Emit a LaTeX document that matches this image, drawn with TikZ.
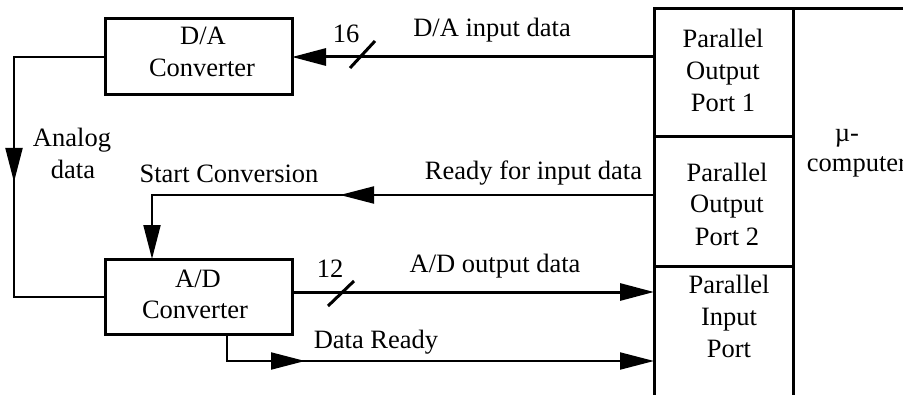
\documentclass[tikz,border=0pt]{standalone}
\usepackage{fontspec}
\setmainfont{Liberation Serif}
\usetikzlibrary{arrows.meta,decorations.markings}
\begin{document}
\begin{tikzpicture}[x=0.5pt,y=-0.5pt,
  every node/.style={font=\fontsize{13.25pt}{16pt}\selectfont, inner sep=0pt, outer sep=0pt},
  box/.style={draw, line width=1.5pt},
  bus/.style={line width=1.5pt},
  sig/.style={line width=1pt},
  tip/.style={-{Triangle[length=17pt,width=8.5pt]}},
  lbl/.style={anchor=base},
  midarrow/.style={postaction={decorate}, decoration={markings, mark=at position #1 with {\arrow{Triangle[length=17pt,width=8.5pt]}}}},
]
\useasboundingbox (0,0) rectangle (903,395);
% boxes
\node[box, minimum width=93.5pt, minimum height=38pt] (DA) at (198.5,57) {};
\node[box, minimum width=93.5pt, minimum height=37.5pt] (AD) at (198.5,296.5) {};
\node[box, minimum width=69.5pt, minimum height=64pt] (P1) at (723.5,73) {};
\node[box, minimum width=69.5pt, minimum height=64.5pt] (P2) at (723.5,201.5) {};
\node[box, minimum width=69.5pt, minimum height=67pt] (P3) at (723.5,333) {};
\node[box, minimum width=60pt, minimum height=196pt] (MC) at (853,205) {};
% box texts
\node[lbl] (da1) at (203,45) {D/A};
\node[lbl] (da2) at (202,77) {Converter};
\node[lbl] (ad1) at (198,287) {A/D};
\node[lbl] (ad2) at (195,318) {Converter};
\node[lbl] (p1a) at (723,48) {Parallel};
\node[lbl] (p1b) at (723,80) {Output};
\node[lbl] (p1c) at (723,112) {Port 1};
\node[lbl] (p2a) at (727,182) {Parallel};
\node[lbl] (p2b) at (727,213) {Output};
\node[lbl] (p2c) at (727,245) {Port 2};
\node[lbl] (p3a) at (729,293) {Parallel};
\node[lbl] (p3b) at (729,325) {Input};
\node[lbl] (p3c) at (729,357) {Port};
\node[lbl] (mc1) at (847,142) {µ-};
\node[lbl] (mc2) at (857,172) {computer};
% signal labels
\node[lbl] (l16) at (346,43) {16};
\node[lbl] (lda) at (492,37) {D/A input data};
\node[lbl] (lan1) at (72,147) {Analog};
\node[lbl] (lan2) at (73,178) {data};
\node[lbl] (lsc) at (229,183) {Start Conversion};
\node[lbl] (lrd) at (533.5,180) {Ready for input data};
\node[lbl] (l12) at (330,277) {12};
\node[lbl] (lado) at (495,272) {A/D output data};
\node[lbl] (ldr) at (376,348) {Data Ready};
% coordinates
\coordinate (rdy) at (654,195);
\coordinate (sc) at (152,195);
\coordinate (ado) at (654,292);
\coordinate (drx) at (227,0);
\coordinate (dre) at (654,361);
\coordinate (s1a) at (350,68);
\coordinate (s1b) at (375,41);
\coordinate (s2a) at (328,306);
\coordinate (s2b) at (354,281);
% connectors
\draw[bus, tip] (P1.west |- DA.east) -- (DA.east);
\draw[bus] (s1a) -- (s1b);
\draw[sig, midarrow=108pt] (DA.west) -- ++(-91,0) |- (AD.west);
\draw[sig, tip, midarrow=157pt] (rdy) -- (sc) -- (sc |- AD.north);
\draw[bus, tip] (AD.east |- ado) -- (ado);
\draw[bus] (s2a) -- (s2b);
\draw[sig, tip, midarrow=52.5pt] (AD.south -| drx) |- (dre);
\end{tikzpicture}
\end{document}
